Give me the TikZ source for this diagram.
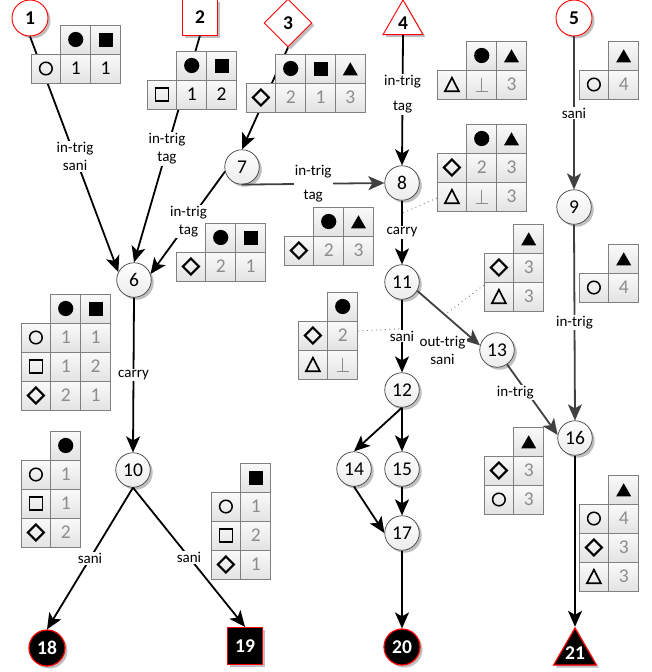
\documentclass[tikz,border=0pt]{standalone}
\usepackage{fontspec}
\setmainfont{Carlito}
\usetikzlibrary{shapes.geometric,arrows.meta,shadows,calc}
\definecolor{edgegray}{HTML}{404040}
\definecolor{cellborder}{HTML}{808080}
\definecolor{numgray}{HTML}{8C8C8C}
\definecolor{srcred}{HTML}{FF0000}
\newcommand\cellw{29.8}
\newcommand\cellh{29}
\newcommand\lblfont{\fontsize{15}{18}\selectfont}
\newcommand\nodefont{\fontsize{19.5}{22}\selectfont}
\newcommand\numfont{\fontsize{19.5}{22}\selectfont}
\tikzset{
  shdw/.style={drop shadow={shadow xshift=2.5pt,shadow yshift=-2.5pt,opacity=0.25,fill=black}},
  gnode/.style={circle,minimum size=34.5pt,inner sep=0pt,draw=edgegray,line width=0.7pt,top color=white,bottom color=gray!15,font=\nodefont,shdw},
  srcnode/.style={draw=srcred,fill=white,line width=0.9pt,inner sep=0pt,font=\nodefont\bfseries,shdw},
  sinknode/.style={draw=srcred,fill=black,line width=1.2pt,inner sep=0pt,text=white,font=\nodefont\bfseries,shdw},
  txtnode/.style={inner sep=0pt,font=\nodefont\bfseries},
  edge/.style={draw=black,line width=1.8pt,-{Stealth[length=16pt,width=14pt,inset=4pt]}},
  gedge/.style={edge,draw=edgegray},
  lbl/.style={fill=white,inner sep=1.2pt,align=center,font=\lblfont,text=black},
  dotline/.style={draw=gray,line width=0.9pt,dash pattern=on 1pt off 3.5pt},
  cellsty/.style={draw=cellborder,line width=0.8pt,top color=gray!4,bottom color=gray!22},
  cellnum/.style={font=\numfont,inner sep=0pt,text=numgray},
  pics/fcirc/.style={code={\fill (0,0) circle (7.6pt);}},
  pics/fsq/.style={code={\fill (-7,-7) rectangle (7,7);}},
  pics/ftri/.style={code={\fill (-7.5,6.8) -- (7.5,6.8) -- (0,-6.2) -- cycle;}},
  pics/ocirc/.style={code={\draw[line width=1.5pt] (0,0) circle (6.3pt);}},
  pics/osq/.style={code={\draw[line width=1.1pt] (-6.5,-6.5) rectangle (6.5,6.5);}},
  pics/odia/.style={code={\draw[line width=2.2pt,line join=miter] (-8,0) -- (0,-8) -- (8,0) -- (0,8) -- cycle;}},
  pics/otri/.style={code={\draw[line width=1.7pt,line join=miter] (-7,6.8) -- (7,6.8) -- (0,-6.8) -- cycle;}},
  pics/perp/.style={code={\draw[numgray,line width=0.9pt] (-6,6.5) -- (6,6.5) (0,6.5) -- (0,-6.5);}},
}
\newcommand\cbox[2]{\path[cellsty] ({#1*\cellw},{#2*\cellh}) rectangle ++(\cellw,\cellh);}
\newcommand\cpic[3]{\cbox{#1}{#2}\pic at ({(#1+0.5)*\cellw},{(#2+0.5)*\cellh}) {#3};}
\newcommand\cnum[5]{\cbox{#2}{#3}\node[cellnum,#5] (#1) at ({(#2+0.5)*\cellw},{(#3+0.5)*\cellh}) {#4};}
\begin{document}
\begin{tikzpicture}[x=1pt,y=-1pt]
\useasboundingbox (0,0) rectangle (651,672);
% ---------- nodes ----------
\node[srcnode,circle,minimum size=36pt] (n1) at (30,18) {1};
\node[srcnode,rectangle,minimum width=35pt,minimum height=36pt] (n2) at (200,17) {2};
\node[srcnode,diamond,minimum width=48pt,minimum height=48pt] (n3) at (288,23) {3};
\node[srcnode,regular polygon,regular polygon sides=3,minimum size=46.2pt] (n4) at (403,23.1) {};
\node[txtnode] (n4t) at (n4.center) {4};
\node[srcnode,circle,minimum size=36pt] (n5) at (574,18) {5};
\node[gnode] (n6) at (134,280) {6};
\node[gnode] (n7) at (242,167) {7};
\node[gnode] (n8) at (402,183) {8};
\node[gnode] (n9) at (574,207) {9};
\node[gnode] (n10) at (133,470) {10};
\node[gnode] (n11) at (402,282) {11};
\node[gnode] (n12) at (402,390) {12};
\node[gnode] (n13) at (497,350) {13};
\node[gnode] (n14) at (354,469) {14};
\node[gnode] (n15) at (402,469) {15};
\node[gnode] (n16) at (575,438) {16};
\node[gnode] (n17) at (402,533) {17};
\node[sinknode,circle,minimum size=36pt] (n18) at (47,648) {18};
\node[sinknode,rectangle,minimum width=35pt,minimum height=37pt] (n19) at (245,646) {19};
\node[sinknode,circle,minimum size=36pt] (n20) at (402,647) {20};
\node[sinknode,regular polygon,regular polygon sides=3,minimum size=49.4pt] (n21) at (575,652.7) {};
\node[txtnode,text=white] (n21t) at (n21.center) {21};
% ---------- dotted annotation lines ----------
\coordinate (d8) at ($(n8.south)!0.2!(n11.north)$);
\coordinate (t8l) at (437,198);
\draw[dotline] (t8l) -- (d8);
\coordinate (d12) at ($(n11.south)!0.4!(n12.north)$);
\coordinate (t12r) at (358,331);
\draw[dotline] (t12r) -- (d12);
\coordinate (d13) at ($(n11.-30)!0.44!(n13.165)$);
\coordinate (t11l) at (484,285);
\draw[dotline] (t11l) -- (d13);
% ---------- edges ----------
\draw[edge] (n1.south) -- node[lbl,pos=0.51] (L1) {in-trig\\sani} (n6.153);
\draw[edge] (n2.south) -- node[lbl,pos=0.5] (L2) {in-trig\\tag} (n6.north);
\draw[edge] (n3.south) -- (n7.north);
\draw[edge] (n7.195) -- node[lbl,pos=0.49] (L3) {in-trig\\tag} (n6.20);
\draw[gedge] (n7.south) -- node[lbl,pos=0.5] (L4) {in-trig\\[6pt]tag} (n8.west);
\draw[edge] (n4.south) -- node[lbl,pos=0.456] (L5) {in-trig\\[7pt]tag} (n8.north);
\draw[gedge] (n5.south) -- node[lbl,pos=0.5] (L6) {sani} (n9.north);
\draw[gedge] (n9.south) -- node[lbl,pos=0.5] (L7) {in-trig} (n16.north);
\draw[edge] (n6.south) -- node[lbl,pos=0.5] (L8) {carry} (n10.north);
\draw[edge] (n8.south) -- node[lbl,pos=0.5] (L9) {carry} (n11.north);
\draw[edge] (n11.south) -- node[lbl,pos=0.5] (L10) {sani} (n12.north);
\draw[gedge] (n11.-30) -- node[lbl,pos=0.8,anchor=north east] (L11) {out-trig\\sani} (n13.165);
\draw[gedge] (n13.-55) -- node[lbl,pos=0.4,xshift=-12pt] (L12) {in-trig} (n16.170);
\draw[edge] (n10.south) -- node[lbl,pos=0.5] (L13) {sani} (n18.north);
\draw[edge] (n10.south) -- node[lbl,pos=0.5] (L14) {sani} (n19.north);
\draw[edge] (n12.south) -- (n14.north);
\draw[edge] (n12.south) -- (n15.north);
\draw[edge] (n14.south) -- (n17.west);
\draw[edge] (n15.south) -- (n17.north);
\draw[edge] (n17.south) -- (n20.north);
\draw[edge] (n16.south) -- (n21.north);
% ---------- tables ----------
\begin{scope}[shift={(31,25)}]
\cpic{1}{0}{fcirc}\cpic{2}{0}{fsq}
\cpic{0}{1}{ocirc}\cnum{ta1}{1}{1}{1}{text=black}\cnum{ta2}{2}{1}{1}{text=black}
\end{scope}
\begin{scope}[shift={(147,51)}]
\cpic{1}{0}{fcirc}\cpic{2}{0}{fsq}
\cpic{0}{1}{osq}\cnum{tb1}{1}{1}{1}{text=black}\cnum{tb2}{2}{1}{2}{text=black}
\end{scope}
\begin{scope}[shift={(246,54)}]
\cpic{1}{0}{fcirc}\cpic{2}{0}{fsq}\cpic{3}{0}{ftri}
\cpic{0}{1}{odia}\cnum{tc1}{1}{1}{2}{}\cnum{tc2}{2}{1}{1}{}\cnum{tc3}{3}{1}{3}{}
\end{scope}
\begin{scope}[shift={(437,41)}]
\cpic{1}{0}{fcirc}\cpic{2}{0}{ftri}
\cpic{0}{1}{otri}\cpic{1}{1}{perp}\cnum{td2}{2}{1}{3}{}
\end{scope}
\begin{scope}[shift={(579,41)}]
\cpic{1}{0}{ftri}
\cpic{0}{1}{ocirc}\cnum{te1}{1}{1}{4}{}
\end{scope}
\begin{scope}[shift={(284,207)}]
\cpic{1}{0}{fcirc}\cpic{2}{0}{ftri}
\cpic{0}{1}{odia}\cnum{tf1}{1}{1}{2}{}\cnum{tf2}{2}{1}{3}{}
\end{scope}
\begin{scope}[shift={(176,223)}]
\cpic{1}{0}{fcirc}\cpic{2}{0}{fsq}
\cpic{0}{1}{odia}\cnum{tg1}{1}{1}{2}{}\cnum{tg2}{2}{1}{1}{}
\end{scope}
\begin{scope}[shift={(437,124)}]
\cpic{1}{0}{fcirc}\cpic{2}{0}{ftri}
\cpic{0}{1}{odia}\cnum{th1}{1}{1}{2}{}\cnum{th2}{2}{1}{3}{}
\cpic{0}{2}{otri}\cpic{1}{2}{perp}\cnum{th3}{2}{2}{3}{}
\end{scope}
\begin{scope}[shift={(579,244)}]
\cpic{1}{0}{ftri}
\cpic{0}{1}{ocirc}\cnum{ti1}{1}{1}{4}{}
\end{scope}
\begin{scope}[shift={(484,224)}]
\cpic{1}{0}{ftri}
\cpic{0}{1}{odia}\cnum{tj1}{1}{1}{3}{}
\cpic{0}{2}{otri}\cnum{tj2}{1}{2}{3}{}
\end{scope}
\begin{scope}[shift={(298,292)}]
\cpic{1}{0}{fcirc}
\cpic{0}{1}{odia}\cnum{tk1}{1}{1}{2}{}
\cpic{0}{2}{otri}\cpic{1}{2}{perp}
\end{scope}
\begin{scope}[shift={(21,294)}]
\cpic{1}{0}{fcirc}\cpic{2}{0}{fsq}
\cpic{0}{1}{ocirc}\cnum{tl1}{1}{1}{1}{}\cnum{tl2}{2}{1}{1}{}
\cpic{0}{2}{osq}\cnum{tl3}{1}{2}{1}{}\cnum{tl4}{2}{2}{2}{}
\cpic{0}{3}{odia}\cnum{tl5}{1}{3}{2}{}\cnum{tl6}{2}{3}{1}{}
\end{scope}
\begin{scope}[shift={(21,431)}]
\cpic{1}{0}{fcirc}
\cpic{0}{1}{ocirc}\cnum{tm1}{1}{1}{1}{}
\cpic{0}{2}{osq}\cnum{tm2}{1}{2}{1}{}
\cpic{0}{3}{odia}\cnum{tm3}{1}{3}{2}{}
\end{scope}
\begin{scope}[shift={(211,463)}]
\cpic{1}{0}{fsq}
\cpic{0}{1}{ocirc}\cnum{tn1}{1}{1}{1}{}
\cpic{0}{2}{osq}\cnum{tn2}{1}{2}{2}{}
\cpic{0}{3}{odia}\cnum{tn3}{1}{3}{1}{}
\end{scope}
\begin{scope}[shift={(484,427)}]
\cpic{1}{0}{ftri}
\cpic{0}{1}{odia}\cnum{to1}{1}{1}{3}{}
\cpic{0}{2}{ocirc}\cnum{to2}{1}{2}{3}{}
\end{scope}
\begin{scope}[shift={(579,475)}]
\cpic{1}{0}{ftri}
\cpic{0}{1}{ocirc}\cnum{tp1}{1}{1}{4}{}
\cpic{0}{2}{odia}\cnum{tp2}{1}{2}{3}{}
\cpic{0}{3}{otri}\cnum{tp3}{1}{3}{3}{}
\end{scope}
\end{tikzpicture}
\end{document}
